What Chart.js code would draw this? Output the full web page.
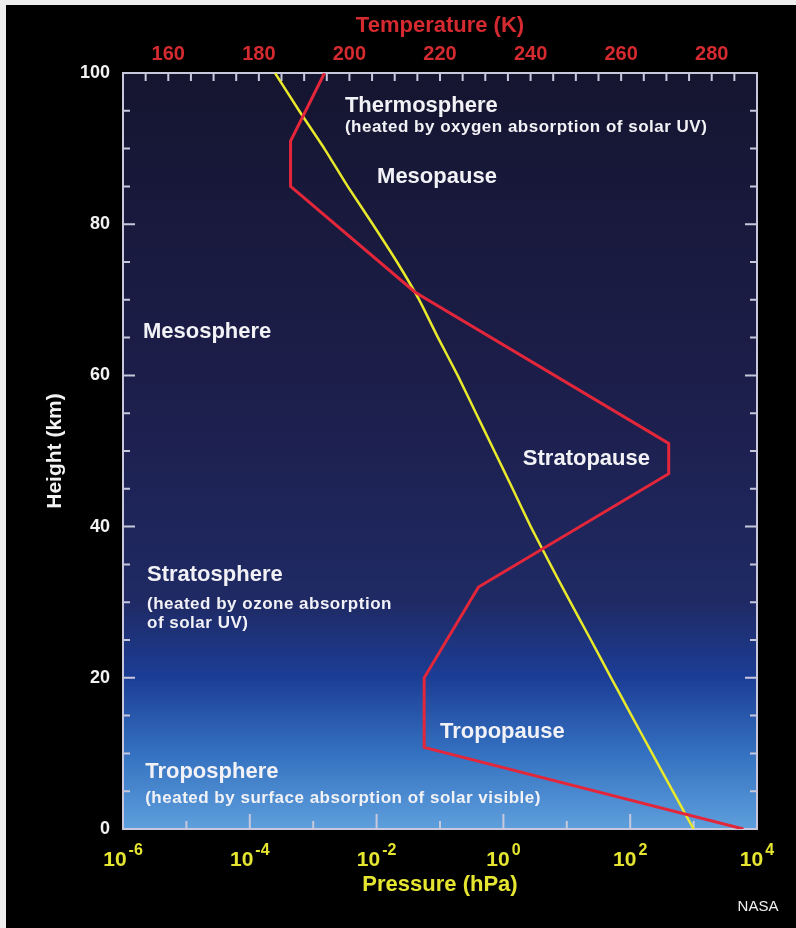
<!DOCTYPE html>
<html>
<head>
<meta charset="utf-8">
<script src="https://cdn.jsdelivr.net/npm/chart.js@4.4.1/dist/chart.umd.min.js"></script>
<style>
    html, body { margin: 0; padding: 0; background: #000; }
    #wrap { width: 796px; height: 928px; }
</style>
</head>
<body>
<div id="wrap"><canvas id="atmo" width="796" height="928"></canvas></div>
<script>
const FONT = '"Liberation Sans", Arial, sans-serif';

// pressure profile (yellow)
const heightKm    = [0, 5, 10, 15, 20, 25, 30, 35, 40, 45, 50, 55, 60, 65, 70, 75, 80, 85, 90, 95, 100];
const pressureHpa = [1000, 470, 222, 105, 50, 24, 11.4, 5.5, 2.7, 1.4, 0.72, 0.37, 0.19, 0.093, 0.047, 0.021, 0.0087, 0.0035, 0.0015, 0.0006, 0.00025];

// temperature profile (red)
const tempHeights = [0, 10.8, 20, 32, 47, 51, 71, 85, 91, 100];
const tempK       = [287, 216.5, 216.5, 228.5, 270.5, 270.5, 214.5, 187, 187, 194.5];

// axes
const tempTicks    = [160, 180, 200, 220, 240, 260, 280];
const heightTicks  = [0, 20, 40, 60, 80, 100];
const pressureExps = [-6, -4, -2, 0, 2, 4];

// annotations : [texte, température (x), altitude (y), police]
const labels = [
    ['Thermosphere', 199.0, 95.6, 'big'],
    ['(heated by oxygen absorption of solar UV)', 199.0, 92.8, 'small'],
    ['Mesopause', 206.1, 86.2, 'big'],
    ['Mesosphere', 154.4, 65.7, 'big'],
    ['Stratopause', 238.3, 48.9, 'big'],
    ['Stratosphere', 155.3, 33.6, 'big'],
    ['(heated by ozone absorption', 155.3, 29.7, 'small'],
    ['of solar UV)', 155.3, 27.2, 'small'],
    ['Tropopause', 220.0, 12.8, 'big'],
    ['Troposphere', 154.9, 7.5, 'big'],
    ['(heated by surface absorption of solar visible)', 154.9, 4.1, 'small']
];

const YELLOW = '#e6e630';
const RED = '#d42a30';

// fond noir + dégradé dans la zone du graphique
const backdropPlugin = {
    id: 'backdrop',
    beforeDraw(chart) {
        const { ctx, chartArea: a } = chart;
        ctx.save();
        ctx.fillStyle = '#000';
        ctx.fillRect(0, 0, chart.width, chart.height);
        // liseré clair en haut et à gauche
        ctx.fillStyle = '#eeeeee';
        ctx.fillRect(0, 0, chart.width, 5);
        ctx.fillRect(0, 0, 6, chart.height);

        const g = ctx.createLinearGradient(0, a.top, 0, a.bottom);
        g.addColorStop(0, '#151530');
        g.addColorStop(0.45, '#1d1f4d');
        g.addColorStop(0.7, '#1f2a64');
        g.addColorStop(0.8, '#1c3d96');
        g.addColorStop(0.9, '#3471c0');
        g.addColorStop(1, '#5e9fdc');
        ctx.fillStyle = g;
        ctx.fillRect(a.left, a.top, a.right - a.left, a.bottom - a.top);
        ctx.restore();
    }
};

// cadre et graduations vers l'intérieur
const framePlugin = {
    id: 'frame',
    beforeDatasetsDraw(chart) {
        const { ctx, chartArea: a, scales } = chart;
        ctx.save();
        ctx.strokeStyle = '#c8c8dc';
        ctx.lineWidth = 2;
        ctx.beginPath();
        for (let h = 0; h <= 100; h += 5) {
            const y = scales.y.getPixelForValue(h);
            const len = h % 20 === 0 ? 12 : 7;
            ctx.moveTo(a.left, y); ctx.lineTo(a.left + len, y);
            ctx.moveTo(a.right, y); ctx.lineTo(a.right - len, y);
        }
        for (let t = 150; t <= 290; t += 5) {
            const x = scales.xT.getPixelForValue(t);
            ctx.moveTo(x, a.top); ctx.lineTo(x, a.top + 8);
        }
        for (let e = -6; e <= 4; e++) {
            const x = scales.xP.getPixelForValue(Math.pow(10, e));
            const len = e % 2 === 0 ? 15 : 8;
            ctx.moveTo(x, a.bottom); ctx.lineTo(x, a.bottom - len);
        }
        ctx.stroke();
        ctx.strokeRect(a.left, a.top, a.right - a.left, a.bottom - a.top);
        ctx.restore();
    }
};

// textes : zones, puissances de 10, NASA
const textPlugin = {
    id: 'texts',
    afterDraw(chart) {
        const { ctx, scales, chartArea: a } = chart;
        ctx.save();
        ctx.fillStyle = '#f2f2f6';
        ctx.textAlign = 'left';
        ctx.textBaseline = 'middle';
        labels.forEach(([txt, t, h, size]) => {
            if (size === 'big') {
                ctx.font = `bold 22px ${FONT}`;
                ctx.letterSpacing = '0px';
            } else {
                ctx.font = `bold 17px ${FONT}`;
                ctx.letterSpacing = '0.5px';
            }
            ctx.fillText(txt, scales.xT.getPixelForValue(t), scales.y.getPixelForValue(h));
        });
        ctx.letterSpacing = '0px';

        // étiquettes 10^n sous l'axe des pressions
        ctx.fillStyle = YELLOW;
        ctx.textBaseline = 'alphabetic';
        pressureExps.forEach(e => {
            const x = scales.xP.getPixelForValue(Math.pow(10, e));
            const sup = String(e);
            ctx.font = `bold 21px ${FONT}`;
            const wBase = ctx.measureText('10').width;
            ctx.font = `bold 16px ${FONT}`;
            const wSup = ctx.measureText(sup).width;
            const x0 = x - (wBase + 2 + wSup) / 2;
            ctx.font = `bold 21px ${FONT}`;
            ctx.fillText('10', x0, a.bottom + 37);
            ctx.font = `bold 16px ${FONT}`;
            ctx.fillText(sup, x0 + wBase + 2, a.bottom + 26);
        });

        ctx.fillStyle = '#f2f2f2';
        ctx.font = `15px ${FONT}`;
        ctx.textAlign = 'center';
        ctx.textBaseline = 'middle';
        ctx.fillText('NASA', 758, 907);
        ctx.restore();
    }
};

const ctx = document.getElementById('atmo').getContext('2d');

new Chart(ctx, {
    type: 'scatter',
    data: {
        datasets: [
            {
                label: 'Temperature',
                xAxisID: 'xT',
                data: tempK.map((t, i) => ({ x: t, y: tempHeights[i] })),
                showLine: true,
                borderColor: '#e3263a',
                borderWidth: 3,
                pointRadius: 0,
                tension: 0
            },
            {
                label: 'Pressure',
                xAxisID: 'xP',
                data: pressureHpa.map((p, i) => ({ x: p, y: heightKm[i] })),
                showLine: true,
                borderColor: '#e9e92c',
                borderWidth: 2.5,
                pointRadius: 0,
                tension: 0.15
            }
        ]
    },
    options: {
        responsive: false,
        animation: false,
        devicePixelRatio: 1,
        layout: { padding: { left: 0, right: 39, top: 0, bottom: 0 } },
        plugins: {
            legend: { display: false },
            tooltip: { enabled: false }
        },
        scales: {
            xP: {
                type: 'logarithmic',
                position: 'bottom',
                min: 1e-6,
                max: 1e4,
                grid: { display: false, drawTicks: false },
                border: { display: false },
                ticks: { display: false },
                title: {
                    display: true,
                    text: 'Pressure (hPa)',
                    color: YELLOW,
                    font: { family: FONT, size: 22, weight: 'bold' },
                    padding: { top: 0, bottom: 30 }
                },
                afterFit(scale) { scale.height = 99; }
            },
            xT: {
                type: 'linear',
                position: 'top',
                min: 150,
                max: 290,
                grid: { display: false, drawTicks: false },
                border: { display: false },
                afterBuildTicks(scale) { scale.ticks = tempTicks.map(v => ({ value: v })); },
                ticks: {
                    color: RED,
                    padding: 7,
                    font: { family: FONT, size: 20, weight: 'bold' }
                },
                title: {
                    display: true,
                    text: 'Temperature (K)',
                    color: RED,
                    font: { family: FONT, size: 22, weight: 'bold' },
                    padding: { top: 13, bottom: 0 }
                },
                afterFit(scale) { scale.height = 73; }
            },
            y: {
                type: 'linear',
                position: 'left',
                min: 0,
                max: 100,
                grid: { display: false, drawTicks: false },
                border: { display: false },
                afterBuildTicks(scale) { scale.ticks = heightTicks.map(v => ({ value: v })); },
                ticks: {
                    color: '#f2f2f2',
                    padding: 13,
                    font: { family: FONT, size: 18, weight: 'bold' }
                },
                title: {
                    display: true,
                    text: 'Height (km)',
                    color: '#f2f2f2',
                    font: { family: FONT, size: 21, weight: 'bold' },
                    padding: { top: 43, bottom: 0 }
                },
                afterFit(scale) { scale.width = 123; }
            }
        }
    },
    plugins: [backdropPlugin, framePlugin, textPlugin]
});
</script>
</body>
</html>
